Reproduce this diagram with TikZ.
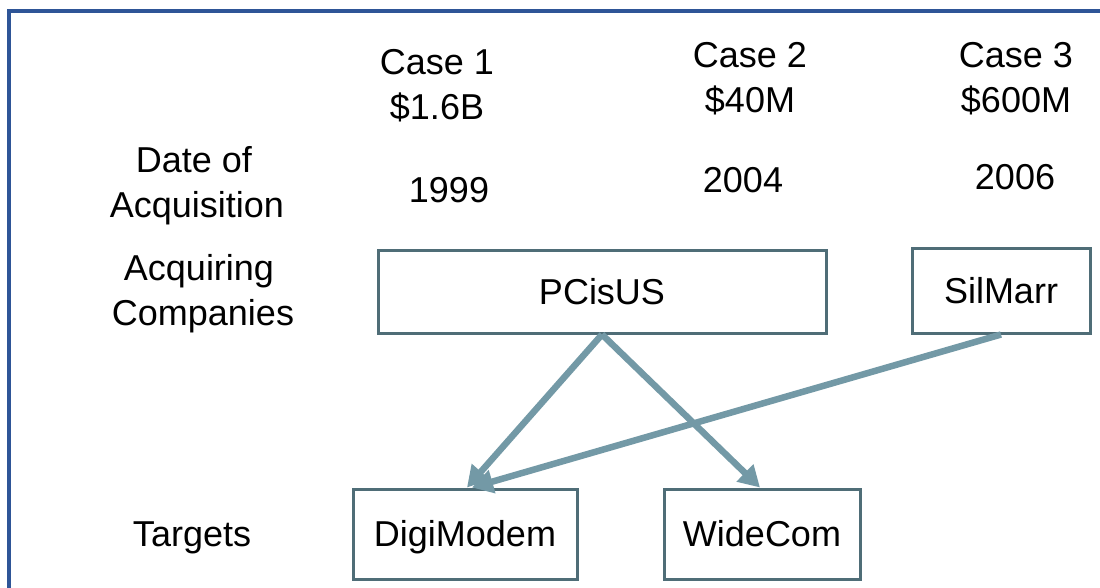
\documentclass[tikz,border=0pt]{standalone}
\usepackage{fontspec}
\setmainfont{Liberation Sans}
\usetikzlibrary{arrows.meta}
\definecolor{framecol}{HTML}{2E5597}
\definecolor{boxcol}{HTML}{4F6D77}
\definecolor{arrcol}{HTML}{7399A6}
\begin{document}
\begin{tikzpicture}[x=1pt,y=-1pt,
  lbl/.style={anchor=base,inner sep=0pt,font=\fontsize{36}{43}\selectfont},
  cbox/.style={draw=boxcol,line width=3pt,fill=white,inner sep=0pt,text height=25pt,text depth=0pt,font=\fontsize{36}{43}\selectfont},
  conn/.style={draw=arrcol,line width=6.5pt,-{Triangle[length=21pt,width=23pt]}}]
\useasboundingbox (0,0) rectangle (1100,588);
\fill[white] (0,0) rectangle (1100,588);
% frame
\draw[framecol,line width=3.5pt] (9,600) -- (9,11) -- (1110,11);
% column headers
\node[lbl] (c1a) at (437,75) {Case 1};
\node[lbl] (c1b) at (437,120) {\$1.6B};
\node[lbl] (c1d) at (449,203) {1999};
\node[lbl] (c2a) at (750,68) {Case 2};
\node[lbl] (c2b) at (750,113) {\$40M};
\node[lbl] (c2d) at (743,193) {2004};
\node[lbl] (c3a) at (1016,68) {Case 3};
\node[lbl] (c3b) at (1016,113) {\$600M};
\node[lbl] (c3d) at (1015,190) {2006};
% row labels
\node[lbl] (r1a) at (194,173) {Date of};
\node[lbl] (r1b) at (197,218) {Acquisition};
\node[lbl] (r2a) at (199,280) {Acquiring};
\node[lbl] (r2b) at (203,325) {Companies};
\node[lbl] (r3) at (192,546) {Targets};
% boxes
\node[cbox,minimum width=448pt,minimum height=83pt] (pc) at (602,291.5) {PCisUS};
\node[cbox,minimum width=178pt,minimum height=85pt] (sm) at (1001,290.5) {SilMarr};
\node[cbox,minimum width=224pt,minimum height=90pt] (dm) at (465,534) {DigiModem};
\node[cbox,minimum width=196pt,minimum height=90pt] (wc) at (762,534) {WideCom};
% connectors
\draw[conn] (pc.south) -- ([xshift=2pt]dm.north);
\draw[conn] (pc.south) -- ([xshift=-2pt]wc.north);
\draw[conn] (sm.south) -- ([xshift=7pt]dm.north);
\end{tikzpicture}
\end{document}
